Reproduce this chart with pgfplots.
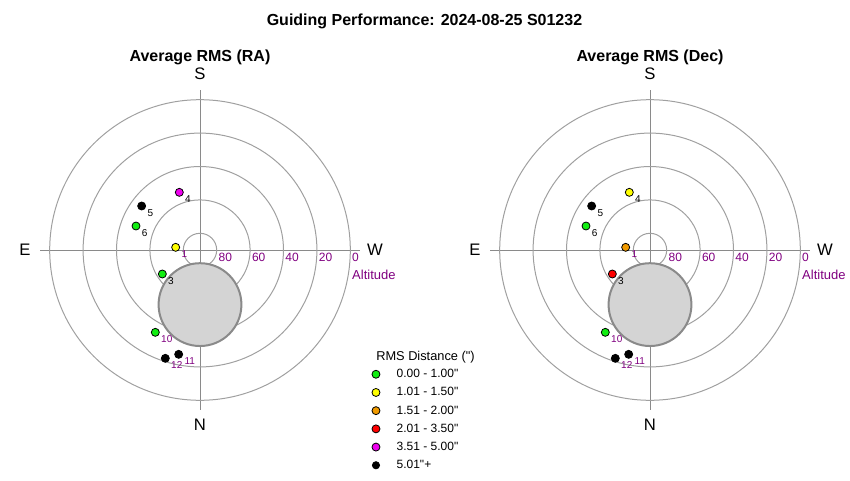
\documentclass[border=0pt]{standalone}
\usepackage{fontspec}
\setmainfont{Liberation Sans}[Ligatures=TeXOff]
\usepackage{pgfplots}
\pgfplotsset{compat=1.18}

\definecolor{cgreen}{HTML}{11EE11}
\definecolor{cyellow}{HTML}{FFFF00}
\definecolor{corange}{HTML}{F09A00}
\definecolor{cred}{HTML}{FF0000}
\definecolor{cmagenta}{HTML}{EE00EE}
\definecolor{altpurple}{HTML}{800080}
\definecolor{gridgray}{HTML}{A0A0A0}
\definecolor{axgray}{HTML}{8A8A8A}

\tikzset{
  ringlbl/.style={anchor=west, inner sep=0pt, text=altpurple, font=\fontsize{9}{10}\selectfont},
  card/.style={font=\fontsize{12.5}{14}\selectfont},
}
\pgfplotsset{
  polar/.style={
    anchor=center, x=1.2525pt, y=1.2525pt,
    xmin=-120, xmax=120, ymin=-120, ymax=120,
    hide axis, clip=false, scale only axis,
  },
  pt/.style={only marks, mark=*, mark size=3pt, forget plot,
    mark options={draw=black, fill=#1, line width=0.6pt}},
  lbl/.style={draw=none, mark=none, forget plot,
    point meta=explicit symbolic, nodes near coords,
    nodes near coords style={anchor=west, inner sep=0pt, xshift=4.2pt, yshift=-5.3pt,
      font=\fontsize{7.5}{8}\selectfont, text=#1}},
}

% common background: rings, cross, pole disc, ring labels
\newcommand{\skybg}{%
  \draw[axgray, line width=0.75pt] (axis cs:-95.8,0) -- (axis cs:95.8,0);
  \draw[axgray, line width=0.75pt] (axis cs:0,-95.8) -- (axis cs:0,95.8);
  \draw[gridgray, line width=0.75pt] (axis cs:0,0) circle[radius=10];
  \draw[gridgray, line width=0.75pt] (axis cs:0,0) circle[radius=30];
  \draw[gridgray, line width=0.75pt] (axis cs:0,0) circle[radius=50];
  \draw[gridgray, line width=0.75pt] (axis cs:0,0) circle[radius=70];
  \draw[gridgray, line width=0.75pt] (axis cs:0,0) circle[radius=90];
  \draw[axgray, line width=1.5pt, fill=black!17] (axis cs:0,-32.7) circle[radius=24.8];
  \node[ringlbl] at (axis cs:11,-4.5) {80};
  \node[ringlbl] at (axis cs:31,-4.5) {60};
  \node[ringlbl] at (axis cs:51,-4.5) {40};
  \node[ringlbl] at (axis cs:71,-4.5) {20};
  \node[ringlbl] at (axis cs:91,-4.5) {0};
  \node[anchor=west, inner sep=0pt, text=altpurple, font=\fontsize{9.75}{11}\selectfont] at (axis cs:91,-15) {Altitude};
  \node[card] at (axis cs:0,105.4) {S};
  \node[card] at (axis cs:0,-104.8) {N};
  \node[card] at (axis cs:-104.8,0) {E};
  \node[card] at (axis cs:104.8,0) {W};
}

\begin{document}
\begin{tikzpicture}[x=0.75pt,y=0.75pt]
\path[use as bounding box] (0,0) rectangle (850,480);

\node[font=\fontsize{12}{14}\selectfont\bfseries, anchor=base] at (424.5,454.5) {Guiding Performance: 2024-08-25 S01232};
\node[font=\fontsize{12}{14}\selectfont\bfseries, anchor=base] at (200,419) {Average RMS (RA)};
\node[font=\fontsize{12}{14}\selectfont\bfseries, anchor=base] at (650,419) {Average RMS (Dec)};
\node[anchor=west, inner sep=0pt, font=\fontsize{9.6}{11}\selectfont] at (376,123) {RMS Distance (")};

% ---- RA ----
\begin{axis}[polar, at={(150pt,172.5pt)},
  legend style={at={(axis description cs:0.9284,0.2056)}, anchor=north west,
    draw=none, fill=none, inner sep=0pt, row sep=4.65pt,
    font=\fontsize{9}{10}\selectfont,
    nodes={inner sep=0pt, text height=7pt, text depth=2pt}},
  legend cell align=left,
  legend image code/.code={\path[draw=none, fill=none] (-3pt,0pt) -- (15.5pt,0pt); \draw[#1] plot coordinates {(0pt,0pt)};},
]
\skybg
\addplot[pt=cgreen] coordinates {(-38.32,14.37) (-22.55,-14.37) (-26.75,-49.30)};
\addplot[pt=cyellow] coordinates {(-14.57,1.60)};
\addplot[pt=cmagenta] coordinates {(-12.38,34.53)};
\addplot[pt=black] coordinates {(-34.93,26.35) (-12.77,-62.47) (-20.76,-64.87)};
\addplot[lbl=black] coordinates {(-22.55,-14.37) [3] (-12.38,34.53) [4] (-34.93,26.35) [5] (-38.32,14.37) [6]};
\addplot[lbl=altpurple] coordinates {(-14.57,1.60) [1] (-26.75,-49.30) [10] (-12.77,-62.47) [11] (-20.76,-64.87) [12]};

\addlegendimage{only marks, mark=*, mark size=3pt, mark options={draw=black, fill=cgreen, line width=0.6pt}}
\addlegendentry{0.00 - 1.00"}
\addlegendimage{only marks, mark=*, mark size=3pt, mark options={draw=black, fill=cyellow, line width=0.6pt}}
\addlegendentry{1.01 - 1.50"}
\addlegendimage{only marks, mark=*, mark size=3pt, mark options={draw=black, fill=corange, line width=0.6pt}}
\addlegendentry{1.51 - 2.00"}
\addlegendimage{only marks, mark=*, mark size=3pt, mark options={draw=black, fill=cred, line width=0.6pt}}
\addlegendentry{2.01 - 3.50"}
\addlegendimage{only marks, mark=*, mark size=3pt, mark options={draw=black, fill=cmagenta, line width=0.6pt}}
\addlegendentry{3.51 - 5.00"}
\addlegendimage{only marks, mark=*, mark size=2.7pt, mark options={draw=black, fill=black, line width=0.6pt}}
\addlegendentry{5.01"+}
\end{axis}

% ---- Dec ----
\begin{axis}[polar, at={(487.5pt,172.5pt)}]
\skybg
\addplot[pt=cgreen] coordinates {(-38.32,14.37) (-26.75,-49.30)};
\addplot[pt=corange] coordinates {(-14.57,1.60)};
\addplot[pt=cred] coordinates {(-22.55,-14.37)};
\addplot[pt=cyellow] coordinates {(-12.38,34.53)};
\addplot[pt=black] coordinates {(-34.93,26.35) (-12.77,-62.47) (-20.76,-64.87)};
\addplot[lbl=black] coordinates {(-22.55,-14.37) [3] (-12.38,34.53) [4] (-34.93,26.35) [5] (-38.32,14.37) [6]};
\addplot[lbl=altpurple] coordinates {(-14.57,1.60) [1] (-26.75,-49.30) [10] (-12.77,-62.47) [11] (-20.76,-64.87) [12]};
\end{axis}
\end{tikzpicture}
\end{document}
